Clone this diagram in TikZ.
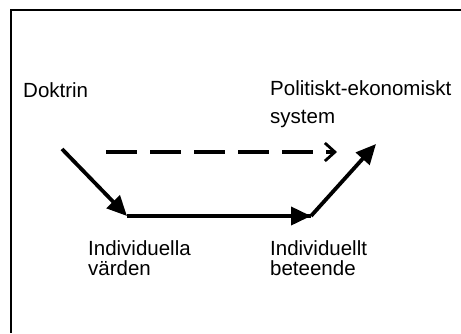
\documentclass[tikz,border=0pt]{standalone}
\usepackage{fontspec}
\setmainfont{Liberation Sans}
\usetikzlibrary{arrows.meta}
\usetikzlibrary{positioning}

\tikzset{
  lbl/.style={anchor=base west, inner sep=0pt, align=left,
    font=\fontsize{20.5}{20}\selectfont},
  flow/.style={line width=3.8pt, -{Triangle[length=20pt,width=18pt]}},
  hint/.style={line width=3.6pt, dash pattern=on 31pt off 13pt,
    -{Straight Barb[length=10pt,width=18pt,line width=2.8pt]}}
}

\begin{document}
\begin{tikzpicture}[x=1pt,y=-1pt]
\useasboundingbox (0,0) rectangle (461,333);
% frame (runs off the right and bottom edges)
\draw[line width=1.8pt] (461,10) -- (11,10) -- (11,333);
% labels
\node[lbl] (doktrin) at (23,97) {Doktrin};
\node[lbl] (system) at (270,95) {Politiskt-ekonomiskt};
\node[lbl] (system2) at (270,123) {system};
\node[lbl] (varden) at (88,275) {Individuella\\v\"arden};
\node[lbl] (beteende) at (270,275) {Individuellt\\beteende};
% arrow ends
\coordinate (a) at (62,149);
\coordinate (b) at (127,216);
\coordinate (c) at (311,216);
\coordinate (d) at (376,144);
\coordinate (e) at (106,152);
\coordinate (f) at (337,152);
\draw[flow] (a) -- (b);
\draw[line width=3.8pt] (b) -- (c);
\draw[flow] (b) -- (c);
\draw[flow] (c) -- (d);
\draw[hint] (e) -- (f);
\end{tikzpicture}
\end{document}
